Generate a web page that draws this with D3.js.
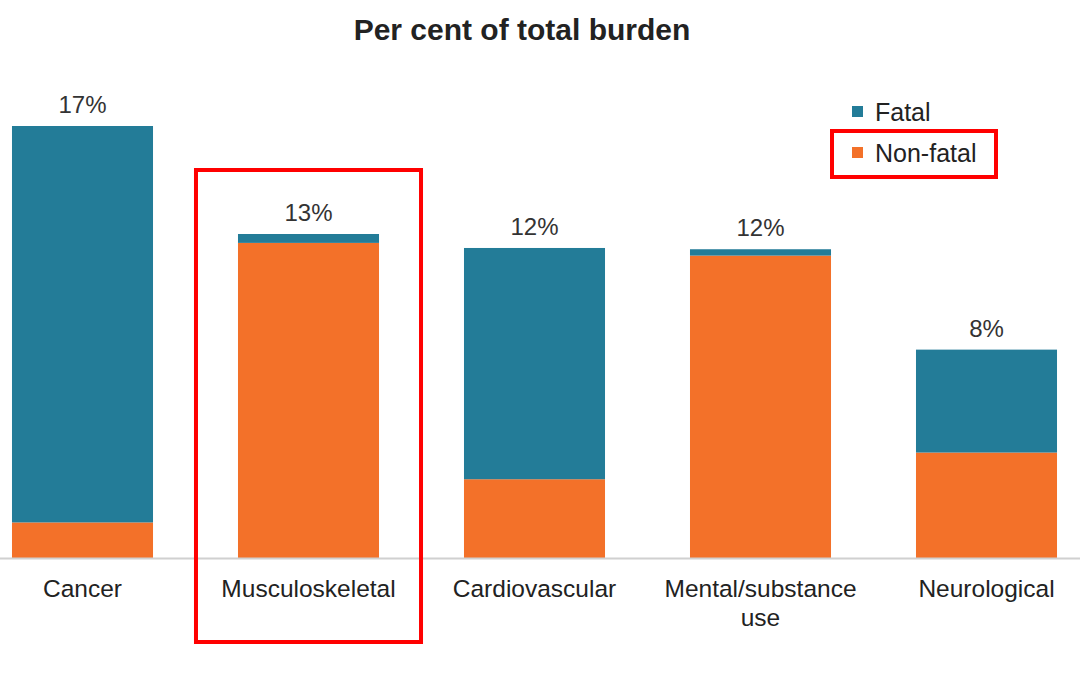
<!DOCTYPE html>
<html>
<head>
<meta charset="utf-8">
<script src="https://cdn.jsdelivr.net/npm/d3@7"></script>
<style>
  body { margin: 0; background: #fff; }
  svg { font-family: "Liberation Sans", Arial, sans-serif; }
</style>
</head>
<body>
<svg id="chart" width="1080" height="675"></svg>
<script>
// values (per cent of total burden)
var categories = ['Cancer', 'Musculoskeletal', 'Cardiovascular', 'Mental/substance use', 'Neurological'];
var fatal    = [15.6, 0.35, 9.1, 0.25, 4.05];
var nonFatal = [1.4, 12.4, 3.1, 11.9, 4.15];
var totalLabels = ['17%', '13%', '12%', '12%', '8%'];
var seriesNames = ['Fatal', 'Non-fatal'];
var highlighted = 'Musculoskeletal';

var colors = { 'Fatal': '#237c98', 'Non-fatal': '#f37129' };

var svg = d3.select('#chart');
var baseY = 558;

var x = d3.scaleBand()
    .domain(categories)
    .range([-30.5, 1099.5])
    .paddingInner(0.376)
    .paddingOuter(0.188);

var y = d3.scaleLinear()
    .domain([0, 17])
    .range([baseY, 126]);

var rows = categories.map(function (c, i) {
    return { cat: c, 'Fatal': fatal[i], 'Non-fatal': nonFatal[i], label: totalLabels[i] };
});

var stack = d3.stack().keys(['Non-fatal', 'Fatal']);
var layers = stack(rows);

svg.append('text')
    .attr('x', 522)
    .attr('y', 40)
    .attr('text-anchor', 'middle')
    .attr('font-size', 30)
    .attr('font-weight', 'bold')
    .attr('fill', '#222')
    .text('Per cent of total burden');

svg.selectAll('g.layer')
    .data(layers)
    .enter().append('g')
    .attr('class', 'layer')
    .attr('fill', function (d) { return colors[d.key]; })
    .selectAll('rect')
    .data(function (d) { return d; })
    .enter().append('rect')
    .attr('x', function (d) { return x(d.data.cat); })
    .attr('width', x.bandwidth())
    .attr('y', function (d) { return y(d[1]); })
    .attr('height', function (d) { return y(d[0]) - y(d[1]); });

// baseline
svg.append('line')
    .attr('x1', 0).attr('x2', 1080)
    .attr('y1', baseY + 0.5).attr('y2', baseY + 0.5)
    .attr('stroke', '#d0d0d0')
    .attr('stroke-width', 2);

// totals above bars
svg.selectAll('text.total')
    .data(rows)
    .enter().append('text')
    .attr('class', 'total')
    .attr('x', function (d) { return x(d.cat) + x.bandwidth() / 2; })
    .attr('y', function (d) { return y(d['Fatal'] + d['Non-fatal']) - 13; })
    .attr('text-anchor', 'middle')
    .attr('font-size', 24)
    .attr('fill', '#333')
    .text(function (d) { return d.label; });

// category labels
var catLines = { 'Mental/substance use': ['Mental/substance', 'use'] };
svg.selectAll('text.cat')
    .data(categories)
    .enter().append('text')
    .attr('class', 'cat')
    .attr('x', function (d) { return x(d) + x.bandwidth() / 2; })
    .attr('y', 597)
    .attr('text-anchor', 'middle')
    .attr('font-size', 24.5)
    .attr('fill', '#222')
    .each(function (d) {
        var lines = catLines[d] || [d];
        var t = d3.select(this);
        lines.forEach(function (l, i) {
            t.append('tspan')
                .attr('x', x(d) + x.bandwidth() / 2)
                .attr('dy', i === 0 ? 0 : 29)
                .text(l);
        });
    });

// legend
var legend = svg.append('g').attr('transform', 'translate(852,0)');
seriesNames.forEach(function (s, i) {
    var ly = 112 + i * 41;
    legend.append('rect')
        .attr('x', 0).attr('y', ly - 6)
        .attr('width', 11).attr('height', 11)
        .attr('fill', colors[s]);
    legend.append('text')
        .attr('x', 23).attr('y', ly + 9)
        .attr('font-size', 25)
        .attr('fill', '#222')
        .text(s);
});

// red highlight boxes
svg.append('rect')
    .attr('x', x(highlighted) - 42)
    .attr('y', 170)
    .attr('width', x.bandwidth() + 84)
    .attr('height', 472)
    .attr('fill', 'none')
    .attr('stroke', '#f00')
    .attr('stroke-width', 4);

svg.append('rect')
    .attr('x', 832)
    .attr('y', 131)
    .attr('width', 164)
    .attr('height', 46)
    .attr('fill', 'none')
    .attr('stroke', '#f00')
    .attr('stroke-width', 4);
</script>
</body>
</html>
